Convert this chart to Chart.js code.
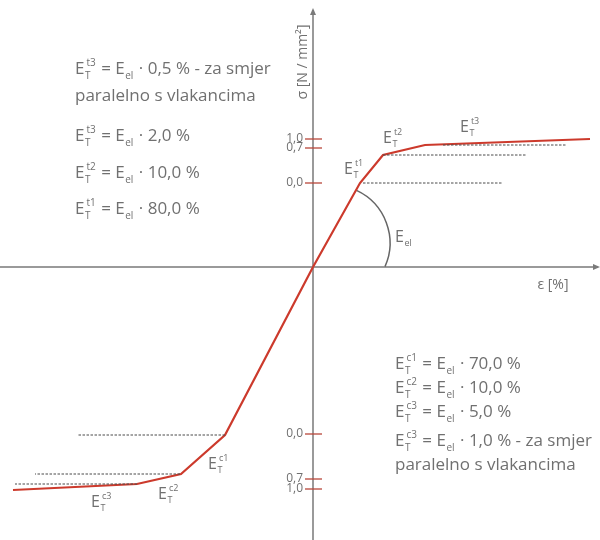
<!DOCTYPE html>
<html>
<head>
<meta charset="utf-8">
<script src="https://cdn.jsdelivr.net/npm/chart.js@4"></script>
<style>
  body { margin: 0; background: #fff; }
  #wrap { width: 600px; height: 540px; }
</style>
</head>
<body>
<div id="wrap"><canvas id="myChart" width="600" height="540"></canvas></div>
<script>
'use strict';
// curve, tension side (strain / stress, arbitrary units)
let strainTension = [0, 4.7, 7.0, 11.2, 27.7];
let stressTension = [0, 8.4, 11.2, 12.2, 12.8];
// curve, compression side
let strainCompression = [0, -8.8, -13.2, -17.6, -30.0];
let stressCompression = [0, -16.8, -20.7, -21.7, -22.3];

// dotted helper lines
let dashLevels = [8.4, 11.2, 12.2, -16.8, -20.7, -21.7];
let dashStart = [5.0, 7.0, 13.0, -8.8, -13.3, -17.6];
let dashEnd = [18.9, 21.4, 25.4, -23.5, -27.8, -29.8];

// y axis ticks
let tickValues = [8.4, 11.9, 12.8, -16.7, -21.2, -22.2];
let tickLabels = ['0,0', '0,7', '1,0', '0,0', '0,7', '1,0'];

let textTopLeft = [
    [{b: 'E', sub: 'T', sup: 't3'}, ' = ', {b: 'E', sub: 'el'}, ' · 0,5 % - za smjer'],
    ['paralelno s vlakancima'],
    [{b: 'E', sub: 'T', sup: 't3'}, ' = ', {b: 'E', sub: 'el'}, ' · 2,0 %'],
    [{b: 'E', sub: 'T', sup: 't2'}, ' = ', {b: 'E', sub: 'el'}, ' · 10,0 %'],
    [{b: 'E', sub: 'T', sup: 't1'}, ' = ', {b: 'E', sub: 'el'}, ' · 80,0 %']
];
let textBottomRight = [
    [{b: 'E', sub: 'T', sup: 'c1'}, ' = ', {b: 'E', sub: 'el'}, ' · 70,0 %'],
    [{b: 'E', sub: 'T', sup: 'c2'}, ' = ', {b: 'E', sub: 'el'}, ' · 10,0 %'],
    [{b: 'E', sub: 'T', sup: 'c3'}, ' = ', {b: 'E', sub: 'el'}, ' · 5,0 %'],
    [{b: 'E', sub: 'T', sup: 'c3'}, ' = ', {b: 'E', sub: 'el'}, ' · 1,0 % - za smjer'],
    ['paralelno s vlakancima']
];

const FONT = '"Open Sans", "DejaVu Sans", sans-serif';
const GREY = '#707070';

function toPoints(xs, ys) {
    let pts = [];
    for (let i = 0; i < xs.length; i++) {
        pts.push({x: xs[i], y: ys[i]});
    }
    return pts;
}

let datasets = [];
for (let i = 0; i < dashLevels.length; i++) {
    datasets.push({
        data: [{x: dashStart[i], y: dashLevels[i]}, {x: dashEnd[i], y: dashLevels[i]}],
        borderColor: '#4a4a4a',
        borderWidth: 1,
        borderDash: [2.5, 1.5],
        pointRadius: 0,
        showLine: true
    });
}
datasets.push({
    data: toPoints(strainTension, stressTension),
    borderColor: '#cc3a2c',
    borderWidth: 2.2,
    pointRadius: 0,
    showLine: true
});
datasets.push({
    data: toPoints(strainCompression, stressCompression),
    borderColor: '#cc3a2c',
    borderWidth: 2.2,
    pointRadius: 0,
    showLine: true
});

// draws E with sub/superscript, returns width
function drawE(ctx, x, y, part, size) {
    ctx.font = size + 'px ' + FONT;
    ctx.fillText(part.b, x, y);
    let w = ctx.measureText(part.b).width;
    let small = Math.round(size * 0.58);
    ctx.font = small + 'px ' + FONT;
    let ws = 0, wp = 0;
    if (part.sub) {
        ctx.fillText(part.sub, x + w + 0.5, y + size * 0.28);
        ws = ctx.measureText(part.sub).width;
    }
    if (part.sup) {
        ctx.fillText(part.sup, x + w + 2, y - size * 0.5);
        wp = ctx.measureText(part.sup).width + 1.5;
    }
    return w + Math.max(ws, wp) + 1.5;
}

function drawRich(ctx, x, y, parts, size) {
    let cx = x;
    for (let p of parts) {
        if (typeof p === 'string') {
            ctx.font = size + 'px ' + FONT;
            ctx.fillText(p, cx, y);
            cx += ctx.measureText(p).width;
        } else {
            cx += drawE(ctx, cx, y, p, size);
        }
    }
}

let extras = {
    id: 'extras',
    beforeDatasetsDraw(chart) {
        let ctx = chart.ctx;
        let xs = chart.scales.x;
        let ys = chart.scales.y;
        let x0 = xs.getPixelForValue(0);
        let y0 = ys.getPixelForValue(0);
        ctx.save();
        // axes
        ctx.strokeStyle = '#7a7a7a';
        ctx.fillStyle = '#7a7a7a';
        ctx.lineWidth = 1.5;
        ctx.beginPath();
        ctx.moveTo(xs.getPixelForValue(-31.3), y0);
        ctx.lineTo(xs.getPixelForValue(28.5), y0);
        ctx.moveTo(x0, ys.getPixelForValue(-27.3));
        ctx.lineTo(x0, ys.getPixelForValue(25.7));
        ctx.stroke();
        let ax = xs.getPixelForValue(28.5);
        ctx.beginPath();
        ctx.moveTo(ax + 2, y0);
        ctx.lineTo(ax - 5, y0 - 3);
        ctx.lineTo(ax - 5, y0 + 3);
        ctx.fill();
        let ay = ys.getPixelForValue(25.7);
        ctx.beginPath();
        ctx.moveTo(x0, ay - 2);
        ctx.lineTo(x0 - 3, ay + 5);
        ctx.lineTo(x0 + 3, ay + 5);
        ctx.fill();

        // ticks
        ctx.strokeStyle = '#b8463a';
        ctx.lineWidth = 1.3;
        ctx.fillStyle = GREY;
        ctx.font = '12px ' + FONT;
        ctx.textAlign = 'right';
        ctx.textBaseline = 'middle';
        for (let i = 0; i < tickValues.length; i++) {
            let py = ys.getPixelForValue(tickValues[i]);
            ctx.beginPath();
            ctx.moveTo(xs.getPixelForValue(-0.8), py);
            ctx.lineTo(xs.getPixelForValue(0.9), py);
            ctx.stroke();
            ctx.fillText(tickLabels[i], x0 - 10, py);
        }

        // angle arc for E_el
        let cx = xs.getPixelForValue(1.9);
        let cy = ys.getPixelForValue(2.4);
        let r = xs.getPixelForValue(5.8) - xs.getPixelForValue(0);
        ctx.strokeStyle = '#666';
        ctx.lineWidth = 1.5;
        ctx.beginPath();
        ctx.arc(cx, cy, r, -65 * Math.PI / 180, 24 * Math.PI / 180);
        ctx.stroke();

        // axis titles
        ctx.fillStyle = GREY;
        ctx.textAlign = 'center';
        ctx.font = '14px ' + FONT;
        ctx.fillText('ε [%]', 553, 285);
        ctx.save();
        ctx.translate(303, 62);
        ctx.rotate(-Math.PI / 2);
        ctx.fillText('σ [N / mm²]', 0, 0);
        ctx.restore();

        // text blocks
        ctx.textAlign = 'left';
        ctx.textBaseline = 'alphabetic';
        let topY = [68, 95, 135, 172, 208];
        for (let i = 0; i < textTopLeft.length; i++) {
            drawRich(ctx, 75, topY[i] + 6, textTopLeft[i], 17);
        }
        let botY = [363, 387, 411, 440, 464];
        for (let i = 0; i < textBottomRight.length; i++) {
            drawRich(ctx, 395, botY[i] + 6, textBottomRight[i], 17);
        }

        // curve labels
        let labels = [
            [{b: 'E', sub: 'T', sup: 't1'}, 344, 174],
            [{b: 'E', sub: 'T', sup: 't2'}, 383, 143],
            [{b: 'E', sub: 'T', sup: 't3'}, 460, 132],
            [{b: 'E', sub: 'el'}, 395, 242],
            [{b: 'E', sub: 'T', sup: 'c1'}, 208, 469],
            [{b: 'E', sub: 'T', sup: 'c2'}, 158, 499],
            [{b: 'E', sub: 'T', sup: 'c3'}, 91, 507]
        ];
        for (let l of labels) {
            drawE(ctx, l[1], l[2], l[0], 16);
        }
        ctx.restore();
    }
};

let ctx = document.getElementById('myChart').getContext('2d');
let myChart = new Chart(ctx, {
    type: 'scatter',
    data: {datasets: datasets},
    options: {
        responsive: false,
        animation: false,
        layout: {padding: 0},
        plugins: {legend: {display: false}, tooltip: {enabled: false}},
        scales: {
            x: {type: 'linear', min: -31.3, max: 28.7, display: false},
            y: {type: 'linear', min: -27.3, max: 26.7, display: false}
        }
    },
    plugins: [extras]
});
</script>
</body>
</html>
